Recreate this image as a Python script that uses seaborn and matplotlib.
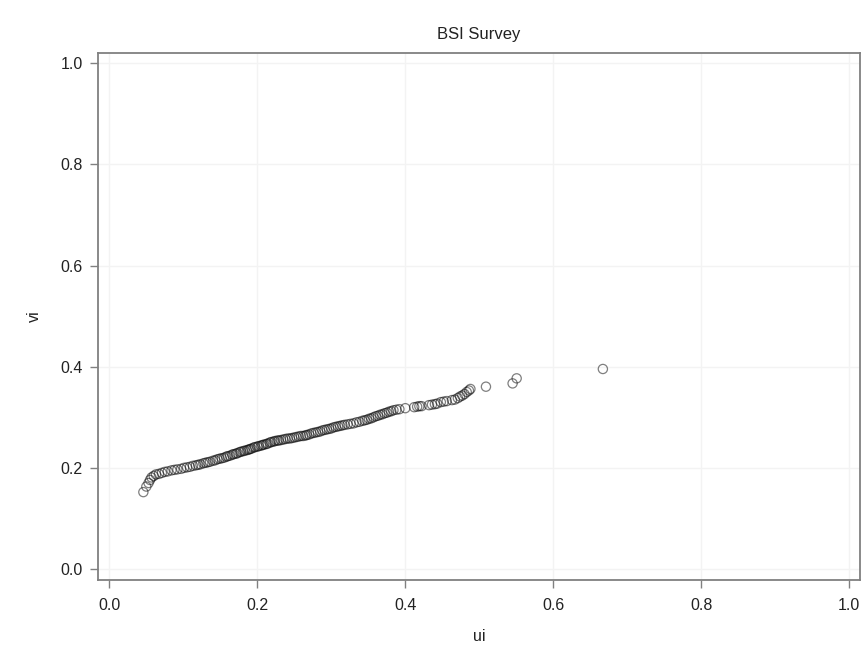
import matplotlib
matplotlib.use("Agg")
import matplotlib.pyplot as plt
import seaborn as sns
import pandas as pd

ui = [0.046, 0.050, 0.053, 0.055, 0.057, 0.060, 0.063, 0.067, 0.071, 0.075,
      0.079, 0.084, 0.088, 0.092, 0.097, 0.101, 0.105, 0.109, 0.113, 0.117,
      0.120, 0.123, 0.127, 0.130, 0.133, 0.136, 0.140, 0.143, 0.146, 0.149,
      0.152, 0.155, 0.158, 0.160, 0.163, 0.166, 0.168, 0.171, 0.173, 0.176,
      0.178, 0.181, 0.183, 0.186, 0.188, 0.190, 0.192, 0.195, 0.197, 0.200,
      0.202, 0.205, 0.207, 0.209, 0.212, 0.214, 0.217, 0.219, 0.222, 0.224,
      0.227, 0.229, 0.232, 0.235, 0.238, 0.241, 0.244, 0.247, 0.250, 0.253,
      0.256, 0.259, 0.262, 0.265, 0.267, 0.270, 0.273, 0.276, 0.279, 0.282,
      0.285, 0.288, 0.291, 0.294, 0.297, 0.300, 0.303, 0.306, 0.309, 0.312,
      0.315, 0.318, 0.322, 0.326, 0.330, 0.334, 0.338, 0.342, 0.345, 0.348,
      0.351, 0.354, 0.357, 0.360, 0.363, 0.366, 0.369, 0.372, 0.375, 0.378,
      0.381, 0.384, 0.388, 0.392, 0.400, 0.412, 0.416, 0.419, 0.422, 0.432,
      0.436, 0.440, 0.443, 0.448, 0.452, 0.456, 0.463, 0.467, 0.471, 0.474,
      0.477, 0.480, 0.483, 0.486, 0.488, 0.509, 0.545, 0.5505, 0.667]

vi = [0.152, 0.163, 0.170, 0.176, 0.181, 0.184, 0.187, 0.188, 0.190, 0.192,
      0.193, 0.195, 0.196, 0.197, 0.198, 0.200, 0.201, 0.202, 0.204, 0.205,
      0.206, 0.207, 0.209, 0.210, 0.211, 0.212, 0.214, 0.215, 0.217, 0.218,
      0.219, 0.220, 0.222, 0.223, 0.224, 0.226, 0.227, 0.228, 0.229, 0.231,
      0.232, 0.233, 0.234, 0.235, 0.236, 0.237, 0.238, 0.240, 0.241, 0.242,
      0.243, 0.244, 0.245, 0.246, 0.247, 0.248, 0.250, 0.251, 0.252, 0.253,
      0.254, 0.254, 0.255, 0.256, 0.257, 0.258, 0.258, 0.259, 0.260, 0.261,
      0.262, 0.263, 0.263, 0.264, 0.265, 0.266, 0.268, 0.269, 0.270, 0.271,
      0.272, 0.274, 0.275, 0.276, 0.277, 0.278, 0.280, 0.281, 0.282, 0.283,
      0.284, 0.285, 0.286, 0.287, 0.288, 0.290, 0.291, 0.293, 0.294, 0.295,
      0.297, 0.298, 0.300, 0.302, 0.303, 0.305, 0.306, 0.308, 0.309, 0.311,
      0.312, 0.314, 0.315, 0.316, 0.318, 0.320, 0.321, 0.322, 0.322, 0.324,
      0.325, 0.326, 0.327, 0.330, 0.331, 0.332, 0.334, 0.335, 0.338, 0.341,
      0.343, 0.346, 0.350, 0.353, 0.356, 0.3605, 0.367, 0.377, 0.3955]

ticks = [0.0, 0.2, 0.4, 0.6, 0.8, 1.0]
tick_labels = ["0.0", "0.2", "0.4", "0.6", "0.8", "1.0"]

df = pd.DataFrame({"ui": ui, "vi": vi})

sns.set_theme(style="white")
plt.rcParams["font.family"] = ["Liberation Sans", "DejaVu Sans"]

fig = plt.figure(figsize=(8.66, 6.58), dpi=100)
ax = fig.add_axes([98 / 866, 1 - 580 / 658, (860 - 98) / 866, (580 - 53) / 658])

sns.scatterplot(data=df, x="ui", y="vi", ax=ax, marker="o", s=44,
                facecolors="none", edgecolor=(0.0, 0.0, 0.0, 0.5),
                linewidth=0.9, legend=False)

ax.set_xlim(-0.0153, 1.0145)
ax.set_ylim(-0.0218, 1.0204)
ax.set_xticks(ticks)
ax.set_xticklabels(tick_labels)
ax.set_yticks(ticks)
ax.set_yticklabels(tick_labels)
ax.grid(True, color="#f3f3f3", linewidth=1.0)
ax.set_axisbelow(True)

for sp in ax.spines.values():
    sp.set_color("#808080")
    sp.set_linewidth(1.3)

ax.tick_params(axis="x", which="major", pad=7)
ax.tick_params(axis="y", which="major", pad=5)
ax.tick_params(axis="both", which="major", direction="out", length=6,
               width=1.0, color="#808080", labelsize=11.5, labelcolor="#222222",
               bottom=True, left=True)

ax.set_xlabel("ui", fontsize=11.5, color="#222222", labelpad=11.5)
ax.set_ylabel("vi", fontsize=11.5, color="#222222", labelpad=13)
ax.set_title("BSI Survey", fontsize=12, color="#222222", pad=10)

fig.savefig("out.png", dpi=100, facecolor="white")
